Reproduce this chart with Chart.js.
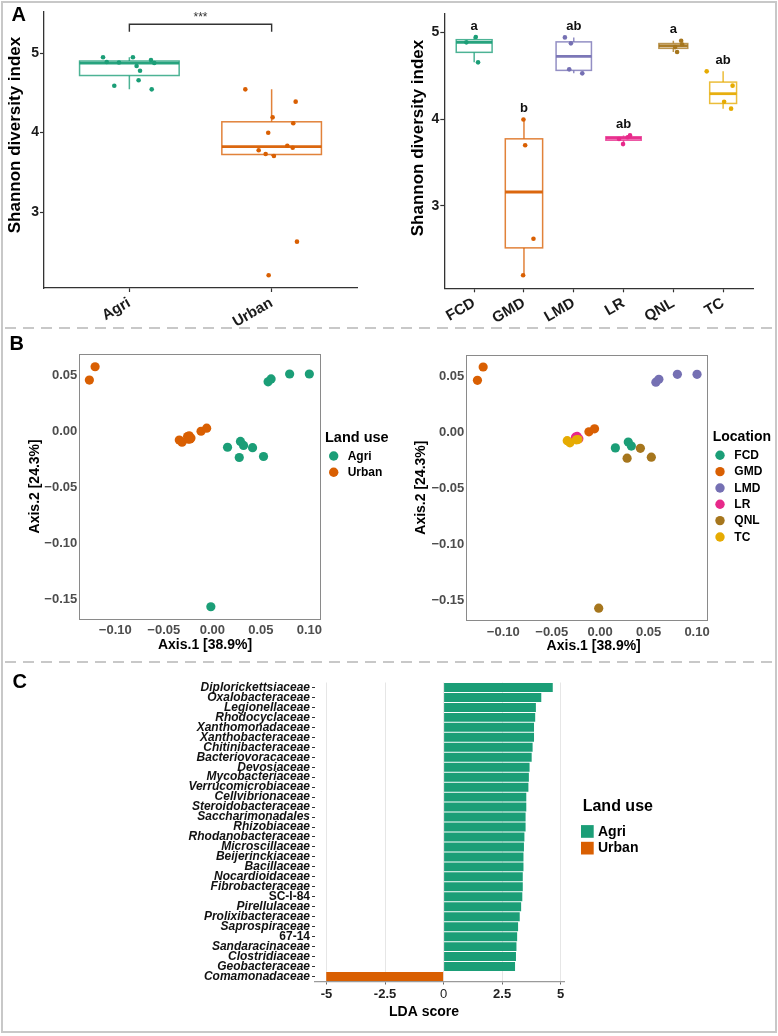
<!DOCTYPE html>
<html><head><meta charset="utf-8">
<script src="https://cdn.jsdelivr.net/npm/chart.js@4.4.1/dist/chart.umd.min.js"></script>
<style>
html,body{margin:0;padding:0;background:#fff;}
#wrap{position:relative;width:778px;height:1036px;overflow:hidden;background:#fff;}
canvas{position:absolute;}
.frame{position:absolute;left:1px;top:1px;width:772px;height:1028px;border:2px solid #c8c8c8;}
.dash{position:absolute;left:5px;width:767px;height:2px;background:repeating-linear-gradient(to right,#c8c8c8 0 11px,transparent 11px 18px);}
</style></head>
<body><div id="wrap">
<div class="frame"></div>
<div class="dash" style="top:327px"></div>
<div class="dash" style="top:661px"></div>
<canvas id="cA1" width="390" height="328" style="left:0;top:0"></canvas>
<canvas id="cA2" width="388" height="328" style="left:390px;top:0"></canvas>
<canvas id="cB1" width="390" height="332" style="left:0;top:330px"></canvas>
<canvas id="cB2" width="388" height="332" style="left:390px;top:330px"></canvas>
<canvas id="cC" width="778" height="372" style="left:0;top:664px"></canvas>
</div>
<script>
// ---------------- DATA ----------------
const landUse = ['Agri', 'Urban'];
const shannonAgri  = [4.946, 4.887, 4.880, 4.946, 4.836, 4.777, 4.912, 4.874, 4.589, 4.657, 4.543];
const jitterAgri   = [-0.185, -0.159, -0.073, 0.025, 0.051, 0.075, 0.152, 0.175, -0.106, 0.065, 0.157];
const shannonUrban = [4.543, 4.388, 4.191, 4.116, 3.997, 3.834, 3.809, 3.776, 3.730, 3.704, 2.627, 2.204];
const jitterUrban  = [-0.185, 0.169, 0.007, 0.152, -0.024, 0.110, 0.148, -0.091, -0.042, 0.016, 0.178, -0.021];
const sigLabel = '***';
const yTicksA = [3, 4, 5];

const locations = ['FCD', 'GMD', 'LMD', 'LR', 'QNL', 'TC'];
const shannonFCD = [4.946, 4.885, 4.654];
const shannonGMD = [3.995, 3.697, 2.619, 2.197];
const shannonLMD = [4.942, 4.873, 4.573, 4.527];
const shannonLR  = [3.770, 3.711, 3.790, 3.811];
const shannonQNL = [4.830, 4.773, 4.904, 4.860];
const shannonTC  = [4.550, 4.385, 4.200, 4.120];
const jitterFCD = [0.032, -0.157, 0.078];
const jitterGMD = [-0.010, 0.024, 0.191, -0.017];
const jitterLMD = [-0.178, -0.057, -0.091, 0.171];
const jitterLR  = [-0.091, -0.010, 0.082, 0.130];
const jitterQNL = [0.036, 0.076, 0.157, 0.177];
const jitterTC  = [-0.330, 0.190, 0.020, 0.160];
const sigLetters = ['a', 'b', 'ab', 'ab', 'a', 'ab'];

// PCoA coordinates [Axis.1, Axis.2]
const pcoaFCD = [[0.0157, -0.0140], [0.0290, -0.0088], [0.0322, -0.0124]];
const pcoaGMD = [[-0.1267, 0.0461], [-0.1208, 0.0580], [-0.0116, 0.0003], [-0.0058, 0.0030]];
const pcoaLMD = [[0.0575, 0.0445], [0.0606, 0.0471], [0.0797, 0.0515], [0.1000, 0.0515]];
const pcoaLR  = [[-0.0255, -0.0045], [-0.0238, -0.0038], [-0.0220, -0.0058], [-0.0245, -0.0060]];
const pcoaQNL = [[0.0278, -0.0232], [0.0415, -0.0144], [0.0528, -0.0223], [-0.0015, -0.1567]];
const pcoaTC  = [[-0.0340, -0.0076], [-0.0312, -0.0095], [-0.0246, -0.0068], [-0.0229, -0.0066]];
const locationLandUse = ['Agri', 'Urban', 'Agri', 'Urban', 'Agri', 'Urban'];
const pcoaXTicks = [-0.10, -0.05, 0.00, 0.05, 0.10];
const pcoaYTicks = [-0.15, -0.10, -0.05, 0.00, 0.05];

// LEfSe
const families = ['Diplorickettsiaceae','Oxalobacteraceae','Legionellaceae','Rhodocyclaceae','Xanthomonadaceae',
  'Xanthobacteraceae','Chitinibacteraceae','Bacteriovoracaceae','Devosiaceae','Mycobacteriaceae',
  'Verrucomicrobiaceae','Cellvibrionaceae','Steroidobacteraceae','Saccharimonadales','Rhizobiaceae',
  'Rhodanobacteraceae','Microscillaceae','Beijerinckiaceae','Bacillaceae','Nocardioidaceae',
  'Fibrobacteraceae','SC-I-84','Pirellulaceae','Prolixibacteraceae','Saprospiraceae',
  '67-14','Sandaracinaceae','Clostridiaceae','Geobacteraceae','Comamonadaceae'];
const ldaScores = [4.66, 4.17, 3.94, 3.91, 3.86, 3.86, 3.80, 3.76, 3.67, 3.64,
  3.62, 3.53, 3.53, 3.50, 3.50, 3.45, 3.43, 3.41, 3.41, 3.38,
  3.38, 3.36, 3.31, 3.25, 3.18, 3.14, 3.11, 3.09, 3.05, -5.01];
const ldaGroup = ['Agri','Agri','Agri','Agri','Agri','Agri','Agri','Agri','Agri','Agri',
  'Agri','Agri','Agri','Agri','Agri','Agri','Agri','Agri','Agri','Agri',
  'Agri','Agri','Agri','Agri','Agri','Agri','Agri','Agri','Agri','Urban'];
const ldaTicks = [-5, -2.5, 0, 2.5, 5];

// ---------------- STYLE ----------------
const FONT = "'Liberation Sans', Arial, Helvetica, sans-serif";
Chart.defaults.font.family = FONT;
Chart.defaults.animation = false;
Chart.defaults.responsive = false;
Chart.defaults.plugins.legend.display = false;
Chart.defaults.plugins.tooltip.enabled = false;

const colLand = { Agri: '#1B9E77', Urban: '#D95F02' };
const colLoc = { FCD: '#1B9E77', GMD: '#D95F02', LMD: '#7570B3', LR: '#E7298A', QNL: '#A6761D', TC: '#E6AB02' };
const boxWidthA1 = 0.7;
const boxWidthsA2 = [0.72, 0.75, 0.71, 0.71, 0.58, 0.54];

function rgba(hex, a) {
  const n = parseInt(hex.slice(1), 16);
  return `rgba(${(n >> 16) & 255},${(n >> 8) & 255},${n & 255},${a})`;
}
function quantile(sorted, p) {
  const pos = (sorted.length - 1) * p, lo = Math.floor(pos), hi = Math.ceil(pos);
  return sorted[lo] + (sorted[hi] - sorted[lo]) * (pos - lo);
}
function boxStats(vals) {
  const s = [...vals].sort((a, b) => a - b);
  const q1 = quantile(s, 0.25), med = quantile(s, 0.5), q3 = quantile(s, 0.75), iqr = q3 - q1;
  const lo = s.find(v => v >= q1 - 1.5 * iqr);
  const hi = [...s].reverse().find(v => v <= q3 + 1.5 * iqr);
  return { q1, med, q3, lo, hi };
}

// ---------------- PLUGINS ----------------
function boxPlugin(items) {
  return { id: 'boxes', beforeDatasetsDraw(chart) {
    const { ctx, scales: { x, y } } = chart;
    items.forEach(b => {
      const s = b.stats, xc = x.getPixelForValue(b.pos);
      const x0 = x.getPixelForValue(b.pos - b.width / 2), x1 = x.getPixelForValue(b.pos + b.width / 2);
      const py = v => y.getPixelForValue(v);
      ctx.save();
      ctx.strokeStyle = rgba(b.color, 0.78); ctx.lineWidth = 1.5;
      ctx.beginPath();
      ctx.moveTo(xc, py(s.hi)); ctx.lineTo(xc, py(s.q3));
      ctx.moveTo(xc, py(s.q1)); ctx.lineTo(xc, py(s.lo));
      ctx.stroke();
      ctx.fillStyle = '#fff';
      ctx.fillRect(x0, py(s.q3), x1 - x0, py(s.q1) - py(s.q3));
      ctx.strokeRect(x0, py(s.q3), x1 - x0, py(s.q1) - py(s.q3));
      ctx.strokeStyle = rgba(b.color, 0.95); ctx.lineWidth = 2.8;
      ctx.beginPath(); ctx.moveTo(x0, py(s.med)); ctx.lineTo(x1, py(s.med)); ctx.stroke();
      ctx.restore();
    });
  } };
}
function textPlugin(items) {
  return { id: 'texts', afterDraw(chart) {
    const ctx = chart.ctx;
    items.forEach(t => {
      ctx.save();
      ctx.font = t.font; ctx.fillStyle = t.color || '#000';
      ctx.textAlign = t.align || 'left'; ctx.textBaseline = t.baseline || 'alphabetic';
      ctx.translate(t.x, t.y); if (t.rotate) ctx.rotate(t.rotate * Math.PI / 180);
      ctx.fillText(t.text, 0, 0); ctx.restore();
    });
  } };
}
function legendPlugin(cfg) {
  return { id: 'customLegend', afterDraw(chart) {
    const ctx = chart.ctx;
    const items = chart.data.datasets.map(d => ({ label: d.label, color: d.legendColor }));
    ctx.save();
    ctx.fillStyle = '#000'; ctx.font = cfg.titleFont; ctx.textAlign = 'left'; ctx.textBaseline = 'alphabetic';
    ctx.fillText(cfg.title, cfg.x, cfg.titleY);
    items.forEach((it, i) => {
      const cy = cfg.firstY + i * cfg.pitch;
      ctx.fillStyle = it.color;
      if (cfg.shape === 'square') ctx.fillRect(cfg.markerX - cfg.size / 2, cy - cfg.size / 2, cfg.size, cfg.size);
      else { ctx.beginPath(); ctx.arc(cfg.markerX, cy, cfg.size / 2, 0, Math.PI * 2); ctx.fill(); }
      ctx.fillStyle = '#000'; ctx.font = cfg.itemFont; ctx.textBaseline = 'middle';
      ctx.fillText(it.label, cfg.textX, cy + 0.5);
    });
    ctx.restore();
  } };
}
const framePlugin = { id: 'frame', beforeDatasetsDraw(chart) {
  const { ctx, chartArea: a } = chart;
  ctx.save(); ctx.strokeStyle = '#8a8a8a'; ctx.lineWidth = 1;
  ctx.strokeRect(Math.round(a.left) + 0.5, Math.round(a.top) + 0.5, Math.round(a.right - a.left), Math.round(a.bottom - a.top));
  ctx.restore();
} };

// ---------------- AXES HELPERS ----------------
function catAxis(cats, min, max, h) {
  return { type: 'linear', min, max,
    afterBuildTicks: s => { s.ticks = cats.map((c, i) => ({ value: i + 1 })); },
    afterFit: s => { s.height = h; },
    ticks: { autoSkip: false, minRotation: 30, maxRotation: 30, padding: 2, color: '#1a1a1a',
      font: { size: 15, weight: 'bold' }, callback: v => cats[Math.round(v) - 1] },
    grid: { drawOnChartArea: false, drawTicks: true, tickLength: 4, color: '#333', tickColor: '#333', tickWidth: 1.2 },
    border: { display: true, color: '#333', width: 1.3 } };
}
function valAxis(tickVals, min, max, w) {
  return { type: 'linear', min, max,
    afterBuildTicks: s => { s.ticks = tickVals.map(v => ({ value: v })); },
    afterFit: s => { s.width = w; },
    ticks: { padding: 1, color: '#1a1a1a', font: { size: 14, weight: 'bold' }, callback: v => String(v) },
    grid: { drawOnChartArea: false, drawTicks: true, tickLength: 4, color: '#333', tickColor: '#333', tickWidth: 1.2 },
    border: { display: true, color: '#333', width: 1.3 } };
}
const fmtPcoa = v => (v < -1e-9 ? '\u2212' : '') + Math.abs(v).toFixed(2);
function pcoaAxes(xr, yr, yw, xh, yTitlePad, xTickPad, yTickPad) {
  return {
    x: { type: 'linear', min: xr[0], max: xr[1],
      afterBuildTicks: s => { s.ticks = pcoaXTicks.map(v => ({ value: v })); },
      afterFit: s => { s.height = xh; },
      ticks: { padding: xTickPad, color: '#4d4d4d', font: { size: 13, weight: 'bold' }, callback: fmtPcoa, autoSkip: false, maxRotation: 0 },
      grid: { display: false, drawTicks: false }, border: { display: false } },
    y: { type: 'linear', min: yr[0], max: yr[1],
      afterBuildTicks: s => { s.ticks = pcoaYTicks.map(v => ({ value: v })); },
      afterFit: s => { s.width = yw; },
      ticks: { padding: yTickPad, color: '#4d4d4d', font: { size: 13, weight: 'bold' }, callback: fmtPcoa, autoSkip: false },
      grid: { display: false, drawTicks: false }, border: { display: false },
      title: { display: true, text: 'Axis.2 [24.3%]', color: '#000', font: { size: 14, weight: 'bold' }, padding: { top: yTitlePad, bottom: 0 } } }
  };
}
const pointDs = (label, pts, color, r, order) => ({
  label, data: pts, legendColor: color, order,
  pointBackgroundColor: color, pointBorderColor: color, pointBorderWidth: 0,
  pointRadius: r, pointHoverRadius: r });

// ---------------- PANEL A (left) ----------------
new Chart(document.getElementById('cA1'), {
  type: 'scatter',
  data: { datasets: [
    pointDs('Agri', shannonAgri.map((v, i) => ({ x: 1 + jitterAgri[i], y: v })), colLand.Agri, 2.3, 2),
    pointDs('Urban', shannonUrban.map((v, i) => ({ x: 2 + jitterUrban[i], y: v })), colLand.Urban, 2.3, 1)
  ] },
  options: {
    layout: { padding: { left: 0, top: 12, right: 33, bottom: 0 } },
    scales: { x: catAxis(landUse, 0.4, 2.6, 40), y: valAxis(yTicksA, 2.044, 5.516, 44) }
  },
  plugins: [
    boxPlugin([
      { pos: 1, width: boxWidthA1, stats: boxStats(shannonAgri), color: colLand.Agri },
      { pos: 2, width: boxWidthA1, stats: boxStats(shannonUrban), color: colLand.Urban }
    ]),
    { id: 'bracket', afterDatasetsDraw(chart) {
      const { ctx, scales: { x, y } } = chart;
      const xa = x.getPixelForValue(1), xb = x.getPixelForValue(2);
      const yTop = y.getPixelForValue(5.361), yFoot = y.getPixelForValue(5.268);
      ctx.save(); ctx.strokeStyle = '#333'; ctx.lineWidth = 1.4;
      ctx.beginPath(); ctx.moveTo(xa, yFoot); ctx.lineTo(xa, yTop); ctx.lineTo(xb, yTop); ctx.lineTo(xb, yFoot); ctx.stroke();
      ctx.fillStyle = '#333'; ctx.font = `12px ${FONT}`; ctx.textAlign = 'center'; ctx.textBaseline = 'middle';
      ctx.fillText(sigLabel, (xa + xb) / 2, y.getPixelForValue(5.447));
      ctx.restore();
    } },
    textPlugin([
      { text: 'A', x: 11.5, y: 21, font: `bold 20px ${FONT}` },
      { text: 'Shannon diversity index', x: 15, y: 135, rotate: -90, align: 'center', baseline: 'middle', font: `bold 17px ${FONT}` }
    ])
  ]
});

// ---------------- PANEL A (right) ----------------
const shannonByLoc = [shannonFCD, shannonGMD, shannonLMD, shannonLR, shannonQNL, shannonTC];
const jitterByLoc = [jitterFCD, jitterGMD, jitterLMD, jitterLR, jitterQNL, jitterTC];
new Chart(document.getElementById('cA2'), {
  type: 'scatter',
  data: { datasets: locations.map((loc, li) =>
    pointDs(loc, shannonByLoc[li].map((v, i) => ({ x: li + 1 + jitterByLoc[li][i], y: v })), colLoc[loc], 2.3, locations.length - li)) },
  options: {
    layout: { padding: { left: 0, top: 13.3, right: 25, bottom: 0 } },
    scales: { x: catAxis(locations, 0.4, 6.6, 39.7), y: valAxis(yTicksA, 2.047, 5.22, 54.3) }
  },
  plugins: [
    boxPlugin(locations.map((loc, li) => ({ pos: li + 1, width: boxWidthsA2[li], stats: boxStats(shannonByLoc[li]), color: colLoc[loc] }))),
    { id: 'letters', afterDatasetsDraw(chart) {
      const { ctx, scales: { x, y } } = chart;
      ctx.save(); ctx.fillStyle = '#111'; ctx.font = `bold 13px ${FONT}`; ctx.textAlign = 'center'; ctx.textBaseline = 'middle';
      sigLetters.forEach((t, i) => ctx.fillText(t, x.getPixelForValue(i + 1), y.getPixelForValue(Math.max(...shannonByLoc[i]) + 0.125)));
      ctx.restore();
    } },
    textPlugin([
      { text: 'Shannon diversity index', x: 28.3, y: 138, rotate: -90, align: 'center', baseline: 'middle', font: `bold 17px ${FONT}` }
    ])
  ]
});

// ---------------- PANEL B ----------------
const pcoaByLoc = [pcoaFCD, pcoaGMD, pcoaLMD, pcoaLR, pcoaQNL, pcoaTC];
const toPts = arr => arr.map(p => ({ x: p[0], y: p[1] }));
new Chart(document.getElementById('cB1'), {
  type: 'scatter',
  data: { datasets: landUse.map((lu, k) => pointDs(lu,
    toPts(pcoaByLoc.filter((_, li) => locationLandUse[li] === lu).flat()), colLand[lu], 4.6, landUse.length - k)) },
  options: {
    layout: { padding: { left: 0, top: 24, right: 70, bottom: 0 } },
    scales: pcoaAxes([-0.1377, 0.111], [-0.1674, 0.0694], 78.7, 43.3, 27, 4, 1.5)
  },
  plugins: [framePlugin,
    legendPlugin({ title: 'Land use', titleFont: `bold 14.5px ${FONT}`, itemFont: `bold 12px ${FONT}`, x: 325, titleY: 111.7,
      markerX: 333.7, firstY: 126, pitch: 16.3, size: 9.4, textX: 347.7, shape: 'circle' }),
    textPlugin([
      { text: 'B', x: 9.5, y: 20, font: `bold 20px ${FONT}` },
      { text: 'Axis.1 [38.9%]', x: 205, y: 315, align: 'center', baseline: 'middle', font: `bold 14px ${FONT}` }
    ])
  ]
});
new Chart(document.getElementById('cB2'), {
  type: 'scatter',
  data: { datasets: locations.map((loc, li) => pointDs(loc, toPts(pcoaByLoc[li]), colLoc[loc], 4.6, locations.length - li)) },
  options: {
    layout: { padding: { left: 0, top: 25.3, right: 70.7, bottom: 0 } },
    scales: pcoaAxes([-0.1382, 0.1106], [-0.1672, 0.0684], 76.3, 42, 22.6, 5, 2)
  },
  plugins: [framePlugin,
    legendPlugin({ title: 'Location', titleFont: `bold 14px ${FONT}`, itemFont: `bold 12px ${FONT}`, x: 322.7, titleY: 110.7,
      markerX: 330, firstY: 125.3, pitch: 16.33, size: 9.4, textX: 344.3, shape: 'circle' }),
    textPlugin([
      { text: 'Axis.1 [38.9%]', x: 203.7, y: 316, align: 'center', baseline: 'middle', font: `bold 14px ${FONT}` }
    ])
  ]
});

// ---------------- PANEL C ----------------
new Chart(document.getElementById('cC'), {
  type: 'bar',
  data: { labels: families, datasets: [{
    label: 'LDA', data: ldaScores, backgroundColor: ldaGroup.map(g => colLand[g]),
    borderWidth: 0, barPercentage: 0.9, categoryPercentage: 1.0 }] },
  options: {
    indexAxis: 'y',
    layout: { padding: { left: 0, top: 18.5, right: 214, bottom: 0 } },
    scales: {
      x: { type: 'linear', min: -5.49, max: 5.14,
        afterBuildTicks: s => { s.ticks = ldaTicks.map(v => ({ value: v })); },
        afterFit: s => { s.height = 54.5; },
        ticks: { padding: 2, color: '#222', autoSkip: false, maxRotation: 0, callback: v => String(v),
          font: ctx => ({ size: 13, weight: ctx.tick && ctx.tick.value === 0 ? 'normal' : 'bold' }) },
        grid: { color: '#e6e6e6', lineWidth: 1, drawTicks: true, tickLength: 3, tickColor: '#666' },
        border: { display: true, color: '#9a9a9a', width: 1.3 } },
      y: { type: 'category',
        afterFit: s => { s.width = 315; },
        ticks: { autoSkip: false, padding: 2, color: '#111',
          font: ctx => ({ size: 12, weight: 'bold', style: /\d/.test(families[ctx.index] || '') ? 'normal' : 'italic' }) },
        grid: { display: true, drawOnChartArea: false, offset: false, drawTicks: true, tickLength: 3, color: '#333', tickColor: '#333' },
        border: { display: false } }
    }
  },
  plugins: [
    { id: 'ldaLegend', afterDraw(chart) {
      const ctx = chart.ctx;
      ctx.save();
      ctx.fillStyle = '#000'; ctx.font = `bold 16px ${FONT}`; ctx.textBaseline = 'alphabetic'; ctx.textAlign = 'left';
      ctx.fillText('Land use', 582.7, 147);
      landUse.forEach((lu, i) => {
        const cy = 167.4 + i * 16.7;
        ctx.fillStyle = colLand[lu]; ctx.fillRect(581, cy - 6.3, 12.7, 12.7);
        ctx.fillStyle = '#000'; ctx.font = `bold 14px ${FONT}`; ctx.textBaseline = 'middle';
        ctx.fillText(lu, 598, cy + 0.5);
      });
      ctx.restore();
    } },
    textPlugin([
      { text: 'C', x: 12.5, y: 24, font: `bold 20px ${FONT}` },
      { text: 'LDA score', x: 424, y: 348, align: 'center', baseline: 'middle', font: `bold 14px ${FONT}` }
    ])
  ]
});
</script>
</body></html>
